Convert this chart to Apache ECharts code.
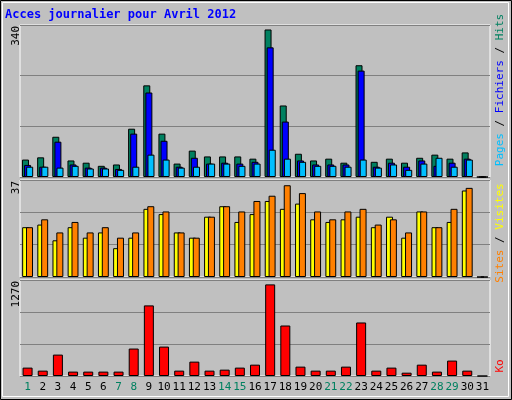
<!DOCTYPE html>
<html>
<head>
<meta charset="utf-8">
<script src="https://cdn.jsdelivr.net/npm/echarts@6/dist/echarts.min.js"></script>
<style>html,body{margin:0;padding:0;background:#c0c0c0}</style>
</head>
<body>
<div id="chart" style="width:512px;height:400px"></div>
<script>
// jours du mois
var days = [];
for (var d = 1; d <= 31; d++) days.push(String(d));
var weekend = ['1', '7', '8', '14', '15', '21', '22', '28', '29'];

var hits  = [39,44,90,37,32,25,28,108,205,97,30,59,46,46,46,41,330,160,52,37,41,32,250,34,41,32,43,50,41,55,0];
var files = [27,23,79,28,21,21,18,97,189,81,23,43,30,32,30,34,290,124,37,28,28,28,238,23,32,23,37,25,32,41,0];
var pages = [23,23,21,25,19,19,16,23,50,39,21,23,30,30,25,30,61,41,34,25,25,23,39,21,28,16,30,43,23,39,0];
var sites  = [19,20,14,19,15,17,11,15,26,24,17,15,23,27,21,24,29,26,28,22,21,22,23,19,23,15,25,19,21,33,0];
var visits = [19,22,17,21,17,19,15,17,27,25,17,15,23,27,25,29,31,35,32,25,22,25,26,20,22,17,25,19,26,34,0];
var ko = [111,71,283,58,58,58,58,363,934,389,71,190,71,84,111,150,1212,668,124,71,71,124,708,71,111,44,150,58,204,71,0];

var maxHits = 340, maxVisits = 37, maxKo = 1270;

const chart = echarts.init(document.getElementById('chart'));

var font = '"DejaVu Sans Mono", monospace';
var edge = { borderColor: '#000', borderWidth: 1 };

function grid(top, height) {
  return { left: 20, right: 22, top: top, height: height, show: true,
    backgroundColor: '#c0c0c0', borderColor: '#fff', borderWidth: 1 };
}
function xAxis(i, show) {
  return { type: 'category', gridIndex: i, data: days,
    axisLine: { show: false }, axisTick: { show: false },
    axisLabel: { show: show, interval: 0, margin: 6, fontFamily: font, fontSize: 11,
      color: function (v) { return weekend.indexOf(v) >= 0 ? '#008060' : '#000'; } } };
}
function yAxis(i, max) {
  return { type: 'value', gridIndex: i, min: 0, max: max, interval: max / 3,
    axisLabel: { show: false }, axisLine: { show: false }, axisTick: { show: false },
    splitLine: { lineStyle: { color: '#808080', width: 1 } } };
}
function vtext(x, y, txt, color) {
  return { type: 'text', x: x, y: y, rotation: Math.PI / 2,
    style: { text: txt, fill: color, font: '11px ' + font, align: 'right', verticalAlign: 'middle' } };
}

var option = {
  backgroundColor: '#c0c0c0',
  animation: false,
  grid: [grid(25, 152), grid(180, 97), grid(280, 96)],
  xAxis: [xAxis(0, false), xAxis(1, false), xAxis(2, true)],
  yAxis: [yAxis(0, maxHits), yAxis(1, maxVisits), yAxis(2, maxKo)],
  graphic: [
    { type: 'rect', shape: { x: 0.5, y: 0.5, width: 511, height: 399 }, style: { fill: 'none', stroke: '#000' } },
    { type: 'rect', shape: { x: 2.5, y: 2.5, width: 506, height: 394 }, style: { fill: 'none', stroke: '#fff' } },
    { type: 'text', x: 5, y: 9, style: { text: 'Acces journalier pour Avril 2012', fill: '#0000ff',
      font: 'bold 12px ' + font } },
    vtext(16, 26, String(maxHits), '#000'),
    vtext(16, 181, String(maxVisits), '#000'),
    vtext(16, 281, String(maxKo), '#000'),
    { type: 'text', x: 500, y: 90, rotation: Math.PI / 2,
      style: { text: '{p|Pages} / {f|Fichiers} / {h|Hits}', font: '11px ' + font, fill: '#000',
        align: 'center', verticalAlign: 'middle',
        rich: { p: { fill: '#00bfff', font: '11px ' + font }, f: { fill: '#0000ff', font: '11px ' + font },
                h: { fill: '#008060', font: '11px ' + font } } } },
    { type: 'text', x: 500, y: 233, rotation: Math.PI / 2,
      style: { text: '{s|Sites} / {v|Visites}', font: '11px ' + font, fill: '#000',
        align: 'center', verticalAlign: 'middle',
        rich: { s: { fill: '#ff8000', font: '11px ' + font }, v: { fill: '#ffff00', font: '11px ' + font } } } },
    { type: 'text', x: 500, y: 366, rotation: Math.PI / 2,
      style: { text: 'Ko', fill: '#ff0000', font: '11px ' + font, align: 'center', verticalAlign: 'middle' } }
  ],
  series: [
    { type: 'bar', xAxisIndex: 0, yAxisIndex: 0, data: hits, barWidth: 7, barGap: '-70%',
      itemStyle: Object.assign({ color: '#008060' }, edge) },
    { type: 'bar', xAxisIndex: 0, yAxisIndex: 0, data: files, barWidth: 7, barGap: '-70%',
      itemStyle: Object.assign({ color: '#0000ff' }, edge) },
    { type: 'bar', xAxisIndex: 0, yAxisIndex: 0, data: pages, barWidth: 7, barGap: '-70%',
      itemStyle: Object.assign({ color: '#00bfff' }, edge) },
    { type: 'bar', xAxisIndex: 1, yAxisIndex: 1, data: sites, barWidth: 7, barGap: '-45%',
      itemStyle: Object.assign({ color: '#ffff00' }, edge) },
    { type: 'bar', xAxisIndex: 1, yAxisIndex: 1, data: visits, barWidth: 7, barGap: '-45%',
      itemStyle: Object.assign({ color: '#ff8000' }, edge) },
    { type: 'bar', xAxisIndex: 2, yAxisIndex: 2, data: ko, barWidth: 10,
      itemStyle: Object.assign({ color: '#ff0000' }, edge) }
  ]
};

chart.setOption(option);
</script>
</body>
</html>
